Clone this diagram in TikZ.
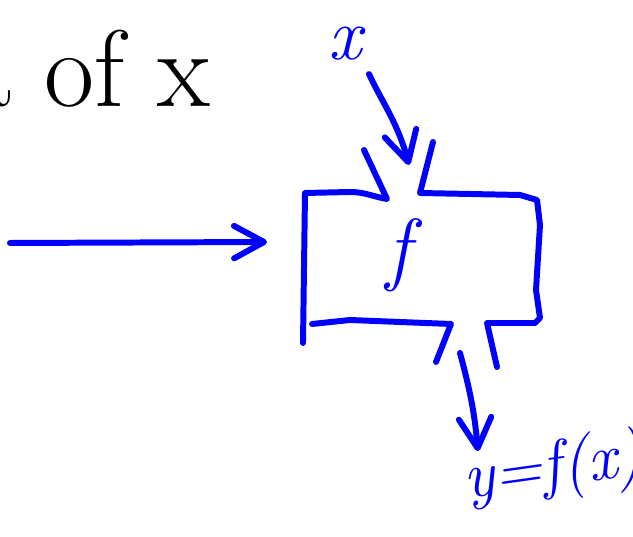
\documentclass[tikz,border=0pt]{standalone}
\usetikzlibrary{arrows.meta,positioning}
\begin{document}
\begin{tikzpicture}[x=0.02cm, y=0.02cm,
    pen/.style={draw=blue, line width=3.4pt, line cap=round, line join=round},
    penarrow/.style={pen, -{Straight Barb[round, length=0.6cm, width=0.65cm]}},
    ink/.style={inner sep=1pt, font=\fontsize{46}{50}\selectfont}
]
\useasboundingbox (0,0) rectangle (633,537);
\clip (0,0) rectangle (633,537);

% labels
\node[ink, anchor=base east, font=\fontsize{62}{66}\selectfont] (ofx) at (212,430) {a of x};
\node[ink, text=blue, font=\fontsize{42}{46}\selectfont\itshape] (xlab) at (345,493) {x};
\node[ink, text=blue, font=\fontsize{46}{50}\selectfont\itshape] (flab) at (399,282) {f};
\node[ink, text=blue, font=\fontsize{37}{41}\selectfont\itshape, anchor=base west, rotate=8] (ylab) at (464,38) {y=f(x)};

% the box with its two openings
\draw[pen] (364,387) -- (387,338) to[out=170,in=0] (350,345) -- (305,344) -- (303,194);
\draw[pen] (433,395) -- (420,344) -- (520,342) -- (537,337) -- (540,312) -- (536,247) -- (540,219) -- (535,214) -- (487,214) -- (497,170);
\draw[pen] (436,175) -- (451,213) -- (400,215) -- (350,217) -- (312,213);

\coordinate (lefttail) at (10,294);
\coordinate (boxin) at (267,295);
\coordinate (topin) at (409,372);
\coordinate (botout) at (460,184);

\draw[penarrow] (lefttail) -- (boxin);
\draw[penarrow, shorten <=0.25cm] (xlab.south east) to[out=-65,in=105] (topin);
\draw[penarrow] (botout) to[out=-75,in=95] ([xshift=0.42cm, yshift=-0.05cm]ylab.north west);

\end{tikzpicture}
\end{document}
